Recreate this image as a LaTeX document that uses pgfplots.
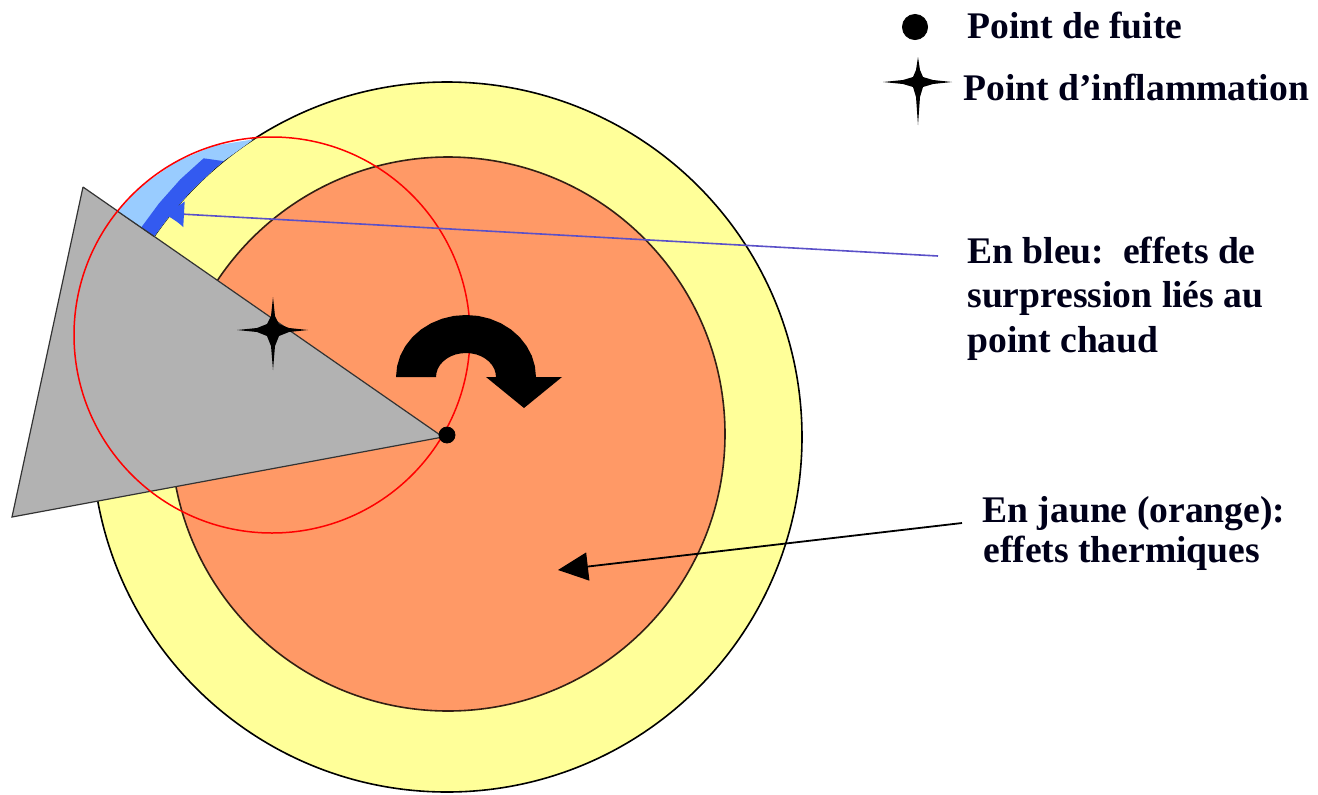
\documentclass[border=0pt]{standalone}
\usepackage{pgfplots}
\pgfplotsset{compat=1.18}
\usepackage{fontspec}
\setmainfont{Liberation Serif}
\usetikzlibrary{arrows.meta}
\definecolor{yel}{RGB}{255,255,153}
\definecolor{ora}{RGB}{255,153,102}
\definecolor{gry}{RGB}{178,178,178}
\definecolor{lblue}{RGB}{153,204,255}
\definecolor{dblue}{RGB}{51,90,240}
\definecolor{lineblue}{RGB}{90,80,200}
\tikzset{txt/.style={anchor=base west, font=\fontsize{18.8}{22}\selectfont\bfseries, inner sep=0pt, text=black!90!blue}}
\begin{document}
\begin{tikzpicture}
\begin{axis}[
  width=659pt, height=397pt, scale only axis,
  xmin=0, xmax=1318, ymin=0, ymax=794, y dir=reverse,
  hide axis, clip=false,
]
\addplot[draw=none, forget plot] coordinates {(0,0) (1318,794)};
% zones
\fill[yel, draw=black, line width=0.8pt] (axis cs:447,437) circle[radius=177.5pt];
\fill[ora, draw=black!80!ora, line width=0.8pt] (axis cs:448,434) circle[radius=138.5pt];
% gray sector
\addplot[fill=gry, draw=black!80, line width=0.6pt] coordinates {(83,187) (443,437) (12,517) (83,187)};
% blue overpressure zone
\addplot[fill=lblue, draw=none] coordinates {(154.1,236.4) (171.1,213.6) (191.6,190.4) (214.1,169.1) (223.6,161.1) (253.7,139.3) (214.1,145.7) (176.0,161.8) (142.1,185.6) (117.5,211.2) (154.1,236.4)};
\addplot[fill=dblue, draw=none] coordinates {(154.1,236.4) (171.1,213.6) (191.6,190.4) (214.1,169.1) (223.6,161.1) (203.6,158.3) (180.3,179.4) (159.0,203.4) (141.2,227.5) (154.1,236.4)};
\addplot[black!80, line width=0.6pt] coordinates {(117.5,211.2) (154.1,236.4)};
% red circle
\draw[red, line width=0.75pt] (axis cs:272,335) circle[radius=99pt];
% leak point
\addplot[only marks, mark=*, mark size=4pt, black] coordinates {(447,435)};
% ignition star
\addplot[fill=black, draw=none] coordinates {(273,297) (275,316) (279,324) (289,328) (308,330) (289,332) (279,336) (275,346) (273,370) (271,346) (267,336) (257,332) (237,330) (257,328) (267,324) (271,316) (273,297)};
% curved arrow
\addplot[fill=black, draw=none] coordinates {(396,377) (397.1,366.2) (400.2,355.8) (405.4,346.0) (412.4,337.1) (421.0,329.5) (431.0,323.3) (442.1,318.7) (453.8,315.9) (466,315) (478.2,315.9) (489.9,318.7) (501,323.3) (511.0,329.5) (519.6,337.1) (526.6,346.0) (531.8,355.8) (534.9,366.2) (536,377) (562,377) (524,408) (486,377) (496,377) (495.5,372.8) (494.2,368.8) (492.0,365.0) (489.0,361.6) (485.3,358.6) (481,356.2) (476.3,354.4) (471.2,353.4) (466,353) (460.8,353.4) (455.7,354.4) (451,356.2) (446.7,358.6) (443,361.6) (440.0,365.0) (437.8,368.8) (436.5,372.8) (436,377) (396,377)};
% annotation arrows
\addplot[lineblue, line width=0.8pt, -{Latex[length=11pt,width=13pt,color=dblue]}] coordinates {(938,256) (162,213)};
\addplot[black, line width=0.9pt, -{Triangle[length=15pt,width=14pt]}] coordinates {(962,523) (558,570)};
% legend
\addplot[only marks, mark=*, mark size=6.3pt, black] coordinates {(915,27)};
\addplot[fill=black, draw=none] coordinates {(918,57) (920,70) (923,77) (933,80) (952,82) (933,84) (923,87) (920,97) (918,125) (916,97) (913,87) (903,84) (883,82) (903,80) (913,77) (916,70) (918,57)};
\node[txt] at (axis cs:967,38) {Point de fuite};
\node[txt] at (axis cs:963,100) {Point d’inflammation};
\node[txt] at (axis cs:967,263) {En bleu:\ \ effets de};
\node[txt] at (axis cs:967,307) {surpression liés au};
\node[txt] at (axis cs:967,352) {point chaud};
\node[txt] at (axis cs:982,522) {En jaune (orange):};
\node[txt] at (axis cs:983,562) {effets thermiques};
\end{axis}
\end{tikzpicture}
\end{document}
